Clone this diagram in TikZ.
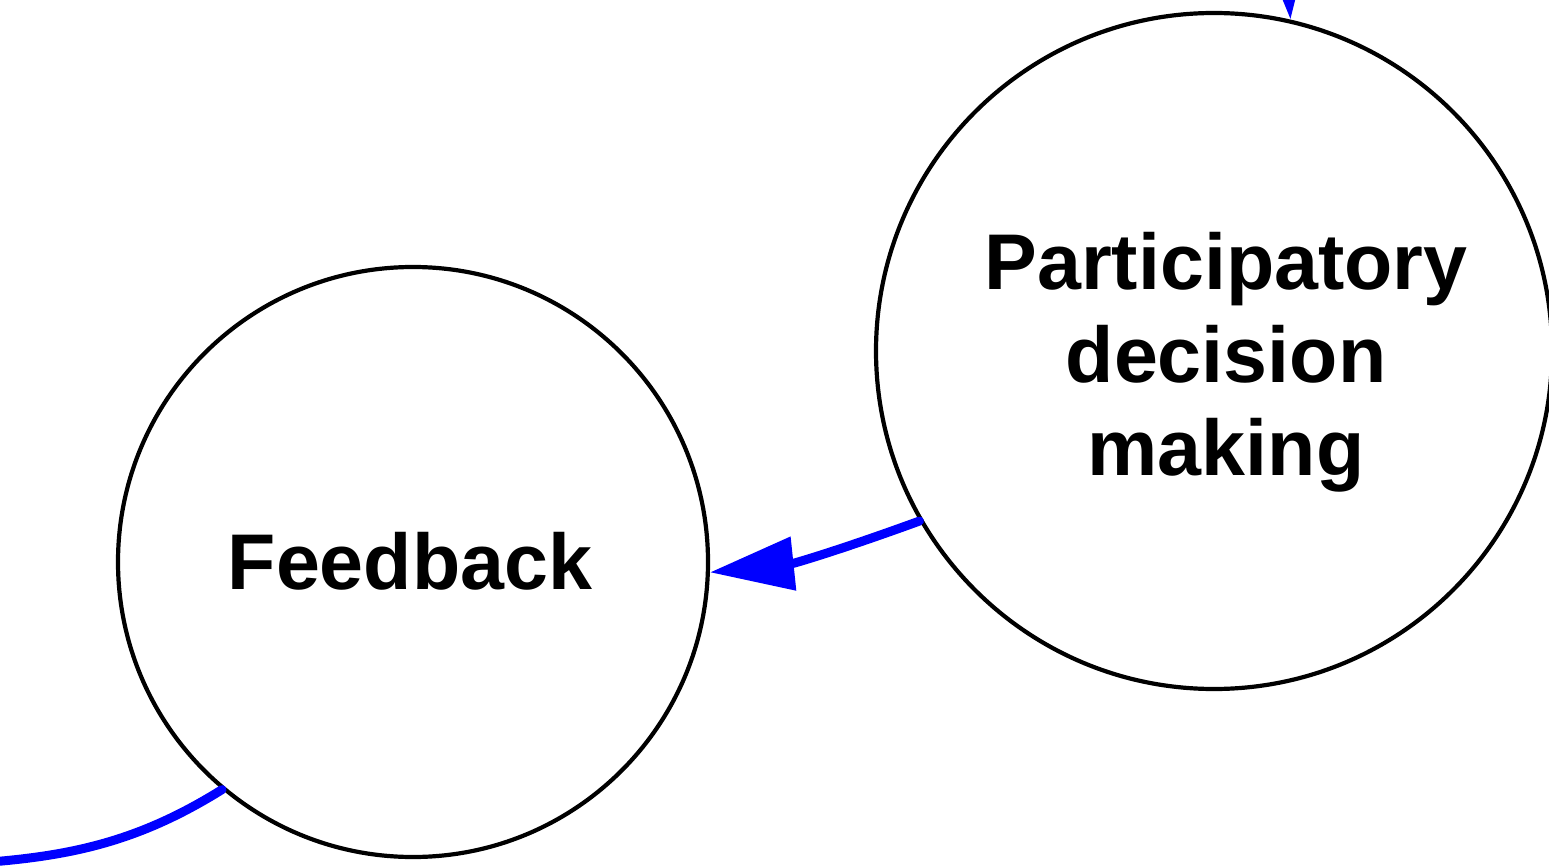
\documentclass[tikz,border=0pt]{standalone}
\usepackage{fontspec}
\setmainfont{Liberation Sans}
\usetikzlibrary{arrows.meta}
\tikzset{
  topic/.style={circle, draw=black, line width=4.2pt, fill=none, inner sep=0pt},
  topictext/.style={font=\fontsize{79}{93}\selectfont\bfseries, align=center, inner sep=0pt},
  link/.style={draw=blue, line width=9pt, line cap=round,
    -{Triangle[length=84pt,width=52pt]}},
  linkplain/.style={draw=blue, line width=9pt, line cap=round}
}
\begin{document}
\begin{tikzpicture}[x=1pt,y=-1pt]
  \useasboundingbox (0,0) rectangle (1549,866);
  \clip (0,0) rectangle (1549,866);

  % topic circles
  \node[topic, minimum size=590pt] (fb) at (413,562) {};
  \node[topictext] (fbt) at (410,561) {Feedback};

  \node[topic, minimum size=676pt] (pdm) at (1214,351) {};
  \node[topictext] (pdmt) at (1226,362) {Participatory\\decision\\making};

  % connectors leading in and out of view
  \coordinate (above) at (1276,-180);
  \coordinate (below) at (-90,867);

  \draw[link] (above) -- (pdm.77.6);
  \draw[link] (pdm.210) to[out=200,in=6] (fb.-2);
  \path[linkplain] (fb.230.7) to[out=212,in=3] (below);
\end{tikzpicture}
\end{document}
